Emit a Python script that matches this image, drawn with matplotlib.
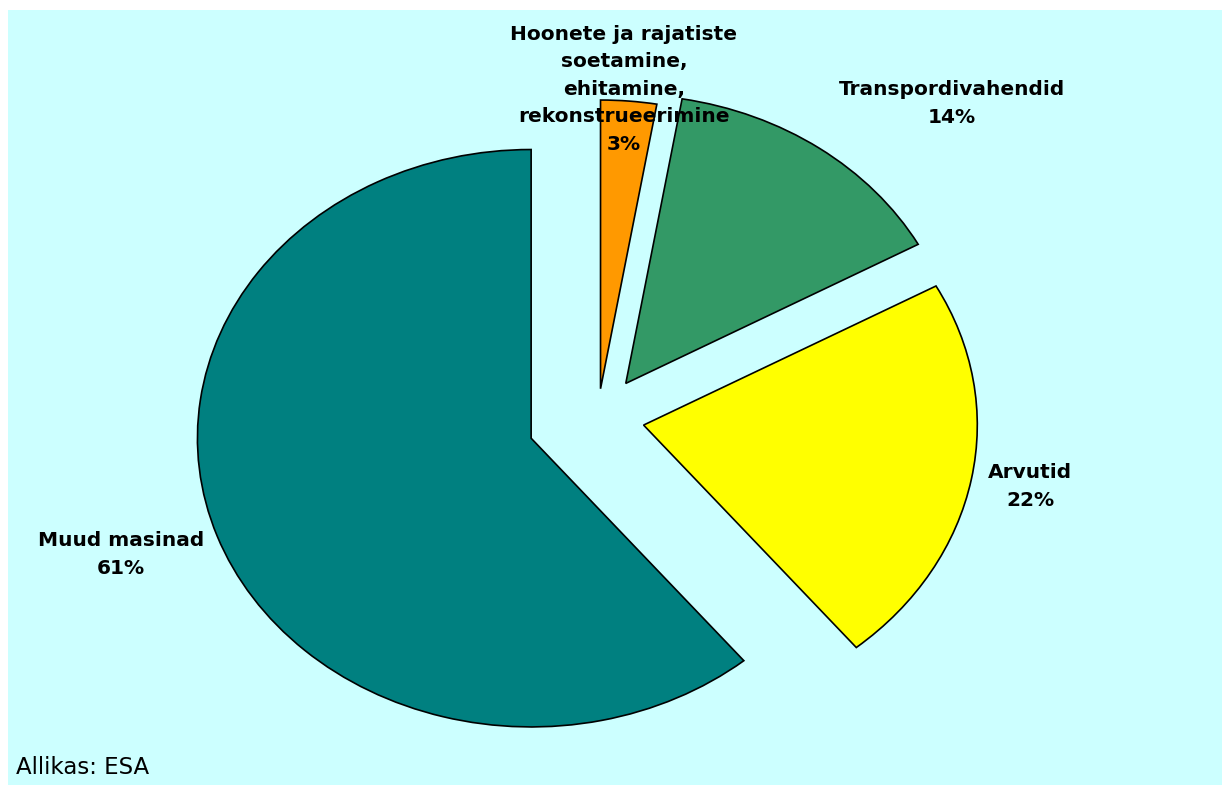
import matplotlib
matplotlib.use("Agg")
import matplotlib.pyplot as plt
from matplotlib.patches import Rectangle

# Data
categories = ["Hoonete ja rajatiste\nsoetamine,\nehitamine,\nrekonstrueerimine",
              "Transpordivahendid", "Arvutid", "Muud masinad"]
shares = [2.7, 14.3, 22.0, 61.0]
colors = ["#FF9900", "#339966", "#FFFF00", "#008080"]
explode = [0.10, 0.145, 0.14, 0.212]
source = "Allikas: ESA"

W, H = 1224, 785
fig = plt.figure(figsize=(W / 100, H / 100), dpi=100, facecolor="white")

# cyan chart area
fig.patches.append(Rectangle((8 / W, 0), (1222 - 8) / W, (H - 10) / H,
                             transform=fig.transFigure, facecolor="#CCFFFF",
                             edgecolor="none", zorder=-5))

ax = fig.add_axes([0, 0, 1, 1])
ax.set_zorder(1)
ax.set_facecolor("none")
wedges, _ = ax.pie(shares, colors=colors, explode=explode, startangle=90,
                   counterclock=False, radius=1,
                   wedgeprops=dict(edgecolor="black", linewidth=1.2))
ax.set_aspect("auto")

# pixel geometry: centre, horizontal and vertical radius
cx, cy, rx, ry = 597.7, 417.5, 333.7, 288.7
ax.set_xlim((0 - cx) / rx, (W - cx) / rx)
ax.set_ylim(-(H - cy) / ry, cy / ry)
ax.axis("off")

def px(x, y):
    return ((x - cx) / rx, (cy - y) / ry)

# baseline of last line of each label (pixels)
label_pos = [(624, 150), (952, 123), (1030, 506), (121, 574)]
for cat, val, (x, y) in zip(categories, shares, label_pos):
    ax.text(*px(x, y), f"{cat}\n{round(val):d}%", ha="center", va="baseline",
            fontsize=14.5, fontweight="bold", family="DejaVu Sans",
            linespacing=1.57, color="black", zorder=5)

fig.text(16 / W, 1 - 774 / H, source, ha="left", va="baseline",
         fontsize=16.5, family="DejaVu Sans", color="black", zorder=5)

fig.savefig("out.png", dpi=100, facecolor=fig.get_facecolor())
